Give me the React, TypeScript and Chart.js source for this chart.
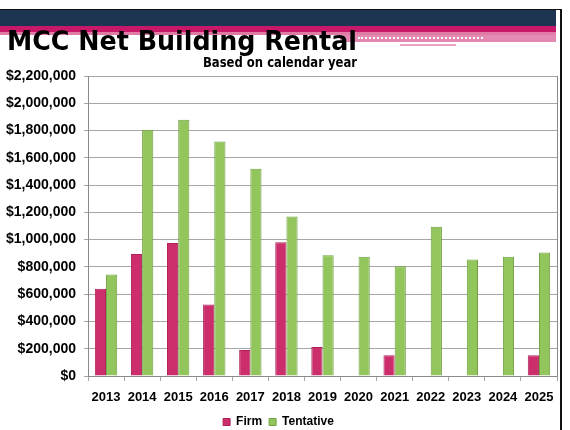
import React, { useEffect, useLayoutEffect, useRef } from 'react';
import { Chart, registerables } from 'chart.js';

Chart.register(...registerables);

const years = ['2013', '2014', '2015', '2016', '2017', '2018', '2019', '2020', '2021', '2022', '2023', '2024', '2025'];
const firmValues = [640000, 895000, 975000, 525000, 190000, 980000, 212000, null, 153000, null, null, null, 153000];
const tentativeValues = [745000, 1805000, 1880000, 1720000, 1520000, 1170000, 885000, 875000, 805000, 1095000, 855000, 875000, 905000];
const seriesNames = ['Firm', 'Tentative'];
const yMin = 0;
const yMax = 2200000;
const yStep = 200000;
const titleText = 'MCC Net Building Rental';
const subtitleText = 'Based on calendar year';

const tickFont = '"Liberation Sans", Arial, sans-serif';
const slideFont = '"DejaVu Sans Condensed", "DejaVu Sans", sans-serif';

function FitText(props: { text: string; width: number; left: number; top: number; size: number }) {
  const ref = useRef<HTMLDivElement | null>(null);
  useLayoutEffect(() => {
    const el = ref.current;
    if (!el) return;
    el.style.transform = 'none';
    const w = el.getBoundingClientRect().width;
    if (w > 0) el.style.transform = `scaleX(${props.width / w})`;
  }, [props.text, props.width]);
  return (
    <div
      ref={ref}
      style={{
        position: 'absolute',
        left: props.left,
        top: props.top,
        fontFamily: slideFont,
        fontStretch: 'condensed',
        fontWeight: 'bold',
        fontSize: props.size,
        lineHeight: `${props.size}px`,
        whiteSpace: 'nowrap',
        color: '#000',
        transformOrigin: 'left top',
        zIndex: 3,
      }}
    >
      {props.text}
    </div>
  );
}

export default function App() {
  const canvasRef = useRef<HTMLCanvasElement | null>(null);

  useEffect(() => {
    const canvas = canvasRef.current;
    if (!canvas) return;
    const grey = '#a6a6a6';
    const chart = new Chart(canvas, {
      type: 'bar',
      data: {
        labels: years,
        datasets: [
          {
            label: seriesNames[0],
            data: firmValues,
            backgroundColor: '#cc2e6c',
            borderColor: '#ad2259',
            borderWidth: 1,
            categoryPercentage: 0.62,
            barPercentage: 1.0,
          },
          {
            label: seriesNames[1],
            data: tentativeValues,
            backgroundColor: '#92c55c',
            borderColor: '#6f9f3e',
            borderWidth: 1,
            categoryPercentage: 0.62,
            barPercentage: 1.0,
          },
        ],
      },
      options: {
        responsive: false,
        animation: false,
        devicePixelRatio: 1,
        layout: { padding: { left: 0, right: 13, top: 76, bottom: -8 } },
        plugins: {
          title: { display: false },
          tooltip: { enabled: false },
          legend: {
            display: true,
            position: 'bottom',
            labels: {
              boxWidth: 7,
              boxHeight: 7,
              padding: 7,
              color: '#000',
              font: { family: tickFont, size: 12, weight: 'bold' },
            },
          },
        },
        scales: {
          x: {
            grid: {
              offset: true,
              drawOnChartArea: false,
              drawTicks: true,
              tickLength: 5,
              color: grey,
            },
            border: { display: true, color: '#8a8a8a' },
            ticks: {
              color: '#000',
              padding: 9,
              maxRotation: 0,
              autoSkip: false,
              font: { family: tickFont, size: 13, weight: 'bold' },
            },
            afterFit: (s: any) => {
              s.height = 33;
            },
          },
          y: {
            min: yMin,
            max: yMax,
            grid: { color: grey, tickLength: 4, drawTicks: true },
            border: { display: true, color: '#8a8a8a' },
            ticks: {
              stepSize: yStep,
              color: '#000',
              padding: 8,
              font: { family: tickFont, size: 14, weight: 'bold' },
              callback: (v: any) => '$' + Number(v).toLocaleString('en-US'),
            },
            afterFit: (s: any) => {
              s.width = 88;
            },
          },
          y2: {
            position: 'right',
            min: yMin,
            max: yMax,
            grid: { display: false, drawTicks: false },
            ticks: { display: false },
            border: { display: true, color: '#8a8a8a' },
            afterFit: (s: any) => {
              s.width = 0;
            },
          },
        },
      },
    } as any);
    return () => chart.destroy();
  }, []);

  return (
    <div
      style={{
        position: 'absolute',
        left: 0,
        top: 0,
        width: 570,
        height: 430,
        overflow: 'hidden',
        background: '#fff',
      }}
    >
      <div style={{ position: 'absolute', left: 0, top: 9, width: 562, height: 1, background: '#111' }} />
      <div style={{ position: 'absolute', left: 0, top: 10, width: 556, height: 16, background: '#1d3551' }} />
      <div style={{ position: 'absolute', left: 0, top: 26, width: 556, height: 6, background: '#c8186a' }} />
      <div style={{ position: 'absolute', left: 0, top: 32, width: 556, height: 3, background: '#e27aa8' }} />
      <div style={{ position: 'absolute', left: 340, top: 35, width: 216, height: 7, background: '#e48ab2' }} />
      <div style={{ position: 'absolute', left: 358, top: 37, width: 125, height: 0, borderTop: '2px dotted #fff' }} />
      <div style={{ position: 'absolute', left: 400, top: 44, width: 56, height: 2, background: '#eaa2c2' }} />
      <div style={{ position: 'absolute', left: 560, top: 9, width: 2, height: 421, background: '#111' }} />
      <canvas
        ref={canvasRef}
        width={570}
        height={430}
        style={{ position: 'absolute', left: 0, top: 0, width: 570, height: 430, zIndex: 2 }}
      />
      <FitText text={titleText} width={350} left={7} top={27} size={27} />
      <FitText text={subtitleText} width={154} left={203} top={55} size={14} />
    </div>
  );
}
